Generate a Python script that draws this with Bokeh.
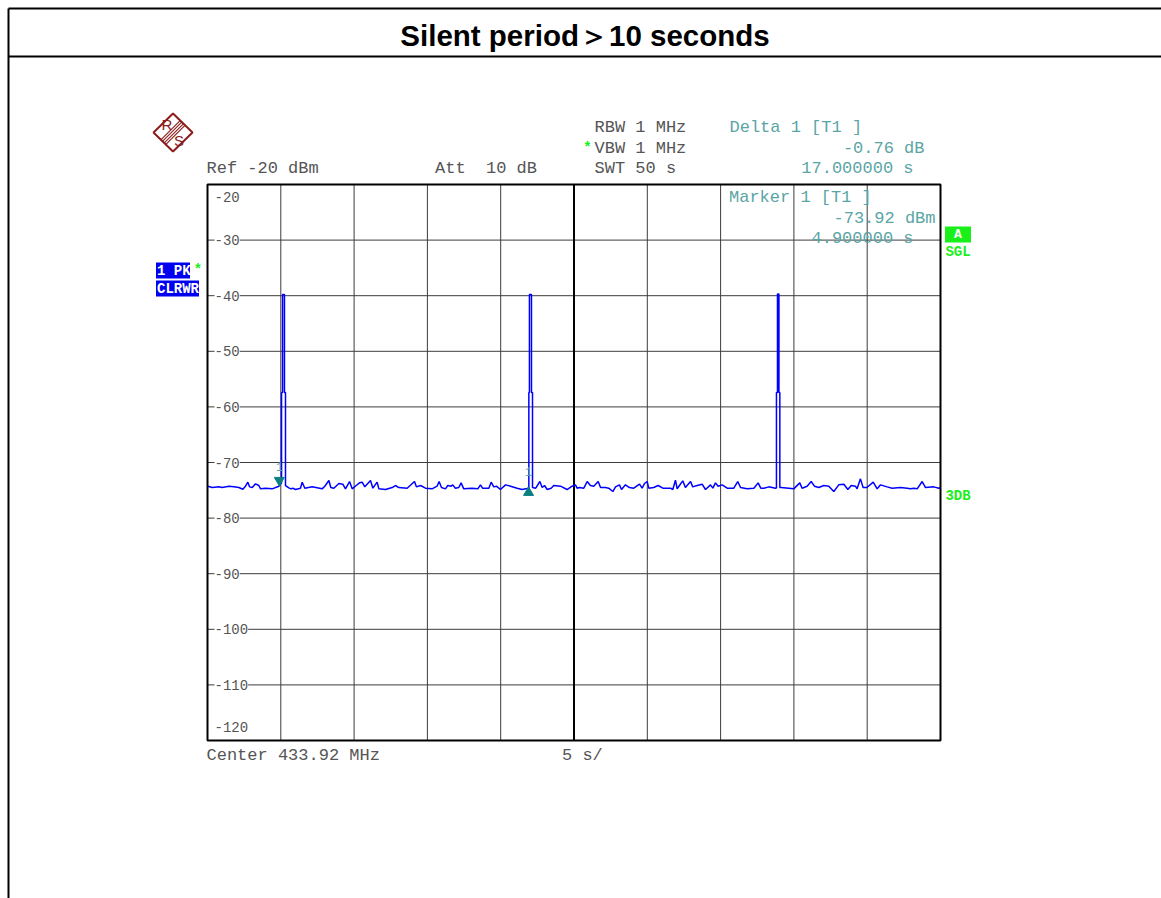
from bokeh.plotting import figure
from bokeh.embed import file_html
from bokeh.resources import INLINE
from bokeh.core.properties import value

# ---------- chart values ----------
sweep_seconds = 50.0
ref_level = -20.0
y_ticks = [-30, -40, -50, -60, -70, -80, -90, -100, -110]
x_ticks = [5, 10, 15, 20, 30, 35, 40, 45]
center_tick = [25]
y_label_values = [-30, -40, -50, -60, -70, -80, -90, -100, -110]
title_text = "Silent period＞10 seconds"

trace_t = [0.00, 0.09, 0.32, 0.77, 1.00, 1.46, 1.80, 2.14, 2.41, 2.59, 2.75, 2.87, 3.05, 3.28, 3.50, 3.62, 3.96, 4.41, 4.87, 5.05,
           5.05, 5.12, 5.12, 5.25, 5.25, 5.32, 5.32,
           5.55, 5.69, 5.82, 6.00, 6.34, 6.46, 6.64, 7.14, 7.48, 7.82, 8.00, 8.28, 8.41, 8.62, 8.96, 9.23, 9.41, 9.69, 9.87, 10.14, 10.37, 10.55, 10.73, 11.12, 11.28, 11.57, 11.69, 12.14, 12.60,
           12.82, 13.05, 13.62, 14.12, 14.25, 14.53, 14.87, 15.32, 15.66, 15.80, 15.96, 16.23, 16.39, 16.62, 16.73, 16.91, 17.14, 17.30, 17.48, 18.05, 18.44, 18.62, 18.76, 19.19, 19.35, 19.53, 19.71, 19.98, 20.33, 20.67, 21.12, 21.46, 21.80,
           21.92, 21.92, 21.96, 21.96, 22.10, 22.10, 22.17, 22.17,
           22.39, 22.67, 22.83, 22.99, 23.17, 23.44, 23.62, 24.08, 24.53, 24.87, 25.10,
           25.21, 25.37, 25.67, 25.90, 26.12, 26.35, 26.65, 26.81, 27.15, 27.37, 27.65, 27.83, 28.10, 28.24, 28.51, 28.78, 29.08, 29.47, 29.65, 29.81, 29.99, 30.10, 30.44, 30.74, 31.06, 31.58, 31.74, 31.92, 32.04, 32.19, 32.42, 32.60, 32.95, 33.10, 33.40, 33.74, 33.97, 34.31, 34.47, 34.65, 34.83, 35.11, 35.45, 35.90, 36.17, 36.36, 36.81, 37.27, 37.56, 37.74,
           37.95, 38.29, 38.74,
           38.81, 38.81, 38.88, 38.88, 38.98, 38.98, 39.04, 39.04,
           39.13, 39.65, 39.99, 40.40, 40.56, 40.90, 41.18, 41.40, 41.70, 42.04, 42.38, 42.72, 43.06, 43.41, 43.68, 43.91, 44.20, 44.31, 44.54, 44.72, 44.98, 45.41, 45.68, 45.91, 46.36, 46.70, 47.27, 47.73, 47.95, 48.18, 48.41, 48.75, 48.98, 49.54, 49.89, 50.00]
trace_db = [-74.30, -74.32, -74.50, -74.38, -74.50, -74.26, -74.38, -74.50, -74.80, -74.26, -73.54, -74.38, -74.50, -73.84, -74.14, -74.74, -74.62, -74.74, -74.26, -73.66,
            -57.40, -57.40, -39.80, -39.80, -57.40, -57.40, -74.14,
            -74.56, -74.74, -74.62, -74.86, -74.62, -73.54, -74.62, -74.38, -74.56, -74.74, -74.26, -73.24, -74.50, -74.62, -73.78, -73.90, -74.74, -73.42, -74.74, -74.14, -73.66, -73.54, -74.38, -73.24, -74.62, -73.54, -74.74, -74.86, -74.50,
            -74.14, -74.50, -74.62, -73.42, -74.38, -74.14, -74.62, -74.74, -74.26, -73.42, -74.50, -74.74, -74.14, -74.26, -74.02, -74.62, -74.50, -73.66, -74.74, -74.62, -74.74, -74.02, -74.62, -74.62, -73.54, -74.38, -74.26, -74.86, -74.02, -74.26, -74.62, -74.86, -74.68,
            -74.60, -57.40, -57.40, -39.80, -39.80, -57.40, -57.40, -74.50,
            -74.62, -73.42, -74.50, -74.14, -74.86, -74.62, -74.14, -74.26, -74.86, -74.26, -74.02,
            -74.62, -74.50, -74.62, -73.42, -74.14, -74.26, -73.42, -74.50, -74.50, -74.62, -75.22, -74.38, -74.02, -74.86, -74.02, -74.50, -74.62, -73.90, -74.62, -73.78, -73.42, -74.62, -74.50, -74.14, -74.62, -74.62, -74.86, -73.18, -74.74, -74.14, -73.30, -74.50, -73.42, -74.38, -74.14, -73.90, -74.86, -74.02, -74.62, -73.66, -74.26, -74.02, -74.62, -74.62, -73.42, -74.50, -74.74, -74.62, -73.66, -74.62,
            -74.62, -74.38, -74.62,
            -74.60, -57.40, -57.40, -39.70, -39.70, -57.40, -57.40, -74.50,
            -74.50, -74.62, -74.74, -73.66, -74.62, -74.26, -73.42, -74.26, -74.50, -74.14, -74.26, -75.22, -74.02, -73.90, -74.86, -74.14, -74.26, -74.74, -72.94, -74.50, -74.50, -73.54, -74.74, -74.02, -74.38, -74.62, -74.50, -74.62, -74.74, -74.62, -74.74, -73.42, -74.50, -74.38, -74.62, -74.50]
marker_t = [4.9, 21.9]
marker_db = [-73.92, -74.68]

# ---------- layout: reference pixel -> data ----------
PX0, PX1, PY0, PY1 = 207.0, 940.0, 184.0, 740.0
def X(px):
    return (px - PX0) * sweep_seconds / (PX1 - PX0)
def Y(py):
    return ref_level - (py - PY0) * 100.0 / (PY1 - PY0)

p = figure(width=1161, height=898, output_backend="svg", toolbar_location=None,
           x_range=(X(0), X(1161)), y_range=(Y(898), Y(0)),
           x_axis_type=None, y_axis_type=None, min_border=0, outline_line_color=None,
           background_fill_color="white", border_fill_color="white")
p.grid.visible = False

MONO = value("Liberation Mono")
GREY = "#555555"
TEAL = "#5aa5a5"
GREEN = "#19f019"
BLUE = "#0000f0"
DARKRED = "#8c1c1c"
NB = "\u00a0"

# page table lines
p.segment(x0=[X(8), X(8), X(8)], y0=[Y(8), Y(56), Y(8)], x1=[X(1161), X(1161), X(8)], y1=[Y(8), Y(56), Y(898)],
          line_color="black", line_width=2)
p.text(x=[X(584.5)], y=[Y(35)], text=[title_text], text_font=value("Liberation Sans"), text_font_style="bold",
       text_font_size="29.5px", text_align="center", text_baseline="middle", text_color="black")

# graticule
p.segment(x0=x_ticks, x1=x_ticks, y0=[ref_level] * len(x_ticks), y1=[-120] * len(x_ticks), line_color="#3c3c3c", line_width=1)
p.segment(x0=[0] * len(y_ticks), x1=[sweep_seconds] * len(y_ticks), y0=y_ticks, y1=y_ticks, line_color="#3c3c3c", line_width=1)
p.segment(x0=center_tick, x1=center_tick, y0=[ref_level], y1=[-120], line_color="black", line_width=2)

# y labels inside the graticule
p.text(x=[X(214)] * len(y_label_values), y=y_label_values, text=[str(v) for v in y_label_values], text_font=MONO,
       text_font_size="14px", text_align="left", text_baseline="middle", text_color=GREY,
       background_fill_color="white")
p.text(x=[X(214), X(214)], y=[Y(196), Y(726)], text=["-20", "-120"], text_font=MONO,
       text_font_size="14px", text_align="left", text_baseline="middle", text_color=GREY)

# trace
p.line(trace_t, trace_db, line_color="#0000ff", line_width=1.5)

# frame
p.quad(left=[0], right=[sweep_seconds], top=[ref_level], bottom=[-120], fill_color=None, line_color="black", line_width=2)

# markers
p.scatter(x=[marker_t[0]], y=[marker_db[0] + 0.72], marker="inverted_triangle", size=10, color="#0a8080")
p.scatter(x=[marker_t[1]], y=[marker_db[1] - 0.72], marker="triangle", size=10, color="#0a8080")
p.text(x=[X(279), X(528)], y=[Y(466), Y(471)], text=["1", "1"], text_font=MONO, text_font_size="12px",
       text_align="center", text_baseline="middle", text_color=TEAL)

# instrument settings
def txt(px, py, s, color=GREY, align="left", size="17px", style="normal"):
    p.text(x=[X(px)], y=[Y(py)], text=[s], text_font=MONO, text_font_size=size, text_font_style=style,
           text_align=align, text_baseline="middle", text_color=color)

txt(206, 168, "Ref -20 dBm")
txt(434.5, 168, "Att" + NB + NB + "10 dB")
txt(594, 127, "RBW 1 MHz")
txt(594, 148, "VBW 1 MHz")
txt(594, 168, "SWT 50 s")
txt(729, 127, "Delta 1 [T1 ]", TEAL)
txt(924, 148, "-0.76 dB", TEAL, "right")
txt(913, 168, "17.000000 s", TEAL, "right")
txt(728.5, 197, "Marker 1 [T1 ]", TEAL)
txt(935, 218, "-73.92 dBm", TEAL, "right")
txt(913, 238, "4.900000 s", TEAL, "right")
txt(206, 755, "Center 433.92 MHz")
txt(561.5, 755, "5 s/")
txt(587, 147, "*", GREEN, "center", "14px", "bold")
txt(197.5, 269, "*", GREEN, "center", "14px", "bold")

# side boxes
p.quad(left=[X(155.5), X(155.5)], right=[X(189.5), X(198.5)], top=[Y(262), Y(280)], bottom=[Y(278), Y(296)], color=BLUE, line_color=None)
txt(156.5, 270, "1 PK", "white", size="14px", style="bold")
txt(156.5, 288, "CLRWR", "white", size="14px", style="bold")
p.quad(left=[X(944.5)], right=[X(970.5)], top=[Y(226)], bottom=[Y(242)], color=GREEN, line_color=None)
txt(957.5, 234, "A", "white", "center", "13px", "bold")
txt(957.5, 251, "SGL", GREEN, "center", "14px", "bold")
txt(957.5, 495, "3DB", GREEN, "center", "14px", "bold")

# logo
p.patch(x=[X(172.5), X(192), X(172.5), X(153)], y=[Y(113), Y(132), Y(151), Y(132)], fill_color=None,
        line_color=DARKRED, line_width=2)
for d in (-2.4, -0.8, 0.8, 2.4):
    p.line([X(162.5 + d), X(182.5 + d)], [Y(142 + d), Y(122 + d)], line_color=DARKRED, line_width=1.1)
p.text(x=[X(166.5), X(178.5)], y=[Y(124), Y(140)], text=["R", "S"], text_font=value("Liberation Sans"), text_font_size="15px",
       text_align="center", text_baseline="middle", text_color=DARKRED)

open("out.html", "w").write(file_html(p, INLINE))
